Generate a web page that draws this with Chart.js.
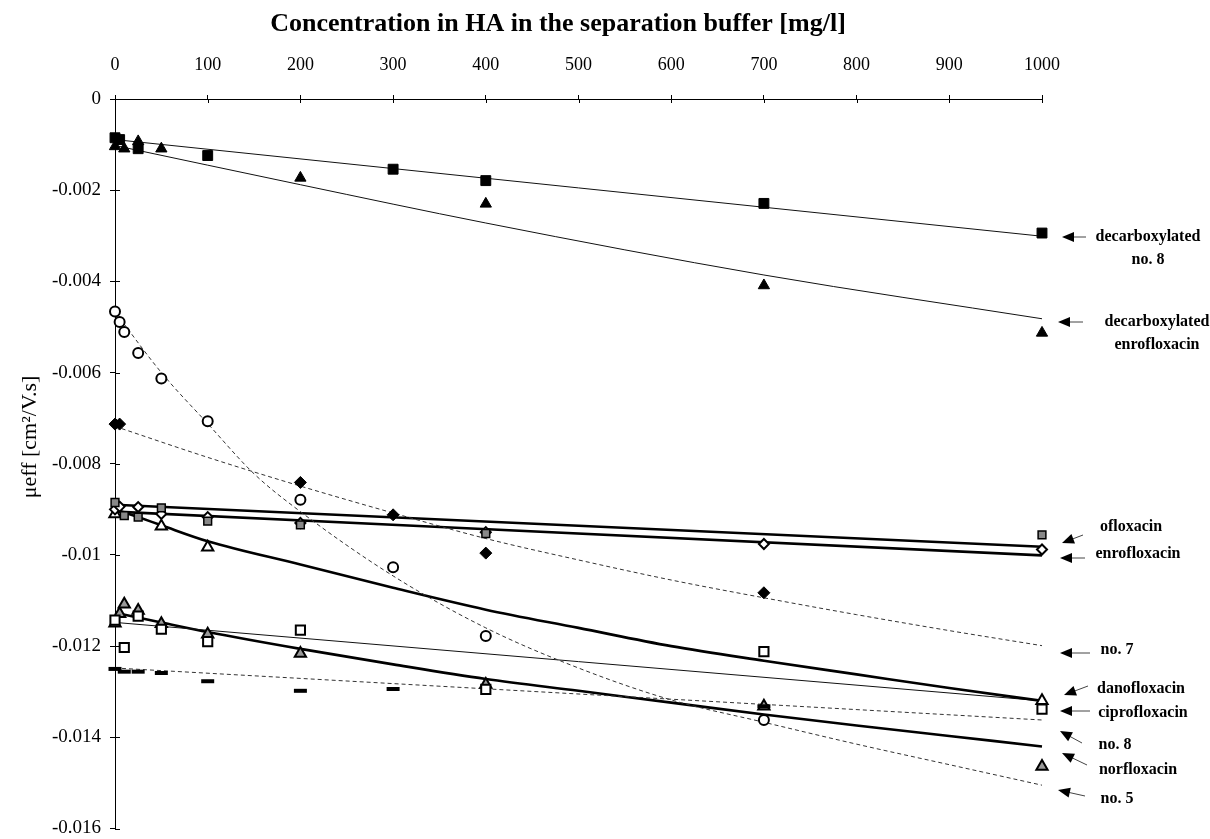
<!DOCTYPE html>
<html>
<head>
<meta charset="utf-8">
<title>Mobility vs HA concentration</title>
<script src="https://cdn.jsdelivr.net/npm/chart.js@4.4.1/dist/chart.umd.min.js"></script>
<style>
  body { margin: 0; background: #fff; }
  #chart { display: block; }
</style>
</head>
<body>
<canvas id="chart" width="1210" height="839"></canvas>
<script>
const xTitle = "Concentration in HA in the separation buffer [mg/l]";
const yTitle = "\u03bceff [cm\u00b2/V.s]";
const xTicks = [0, 100, 200, 300, 400, 500, 600, 700, 800, 900, 1000];
const yTicks = [0, -0.002, -0.004, -0.006, -0.008, -0.01, -0.012, -0.014, -0.016];

// decarboxylated no. 8 (filled squares)
const decNo8X = [0, 5, 25, 100, 300, 400, 700, 1000];
const decNo8Y = [-0.00085, -0.00089, -0.00109, -0.00124, -0.00154, -0.00179, -0.00229, -0.00294];
const decNo8FitX = [0, 1000];
const decNo8FitY = [-0.00089, -0.00301];

// decarboxylated enrofloxacin (filled triangles)
const decEnroX = [0, 10, 25, 50, 200, 400, 700, 1000];
const decEnroY = [-0.00104, -0.00109, -0.00093, -0.00109, -0.00173, -0.0023, -0.00409, -0.00513];
const decEnroFitX = [0, 200, 400, 700, 1000];
const decEnroFitY = [-0.00102, -0.00188, -0.00272, -0.00386, -0.00482];

// no. 5 (open circles)
const no5X = [0, 5, 10, 25, 50, 100, 200, 300, 400, 700];
const no5Y = [-0.00466, -0.00489, -0.00511, -0.00557, -0.00613, -0.00707, -0.00879, -0.01027, -0.01178, -0.01362];
const no5FitX = [0, 50, 100, 150, 200, 300, 400, 500, 600, 700, 800, 900, 1000];
const no5FitY = [-0.00467, -0.006, -0.00712, -0.00822, -0.00905, -0.01046, -0.0116, -0.01248, -0.01318, -0.01367, -0.01415, -0.0146, -0.01505];

// no. 7 (filled diamonds)
const no7X = [0, 5, 200, 300, 400, 700];
const no7Y = [-0.00713, -0.00713, -0.00841, -0.00912, -0.00996, -0.01083];
const no7FitX = [0, 100, 200, 300, 400, 500, 600, 700, 800, 900, 1000];
const no7FitY = [-0.00718, -0.00786, -0.00849, -0.00908, -0.00964, -0.01011, -0.01055, -0.01094, -0.01131, -0.01166, -0.01199];

// ofloxacin (grey squares)
const ofloX = [0, 10, 25, 50, 100, 200, 400, 1000];
const ofloY = [-0.00885, -0.00914, -0.00917, -0.00897, -0.00926, -0.00934, -0.00953, -0.00956];
const ofloFitX = [0, 1000];
const ofloFitY = [-0.0089, -0.00982];

// enrofloxacin (open diamonds)
const enroX = [0, 5, 25, 50, 100, 200, 400, 700, 1000];
const enroY = [-0.009, -0.00894, -0.00895, -0.0091, -0.00917, -0.0093, -0.0095, -0.00976, -0.00988];
const enroFitX = [0, 1000];
const enroFitY = [-0.00905, -0.01001];

// danofloxacin (open triangles)
const danoX = [0, 50, 100, 1000];
const danoY = [-0.0091, -0.00937, -0.00983, -0.0132];
const danoFitX = [0, 25, 50, 100, 200, 300, 400, 500, 600, 700, 800, 900, 1000];
const danoFitY = [-0.009, -0.00917, -0.00935, -0.0097, -0.01021, -0.01072, -0.0112, -0.0116, -0.012, -0.01232, -0.01262, -0.01292, -0.0132];

// ciprofloxacin (open squares)
const ciproX = [0, 10, 25, 50, 100, 200, 400, 700, 1000];
const ciproY = [-0.01143, -0.01203, -0.01134, -0.01163, -0.0119, -0.01165, -0.01295, -0.01212, -0.01338];
const ciproFitX = [0, 1000];
const ciproFitY = [-0.01148, -0.0132];

// no. 8 (dashes)
const no8X = [0, 10, 25, 50, 100, 200, 300, 700];
const no8Y = [-0.0125, -0.01256, -0.01256, -0.01259, -0.01277, -0.01298, -0.01294, -0.01332];
const no8FitX = [0, 1000];
const no8FitY = [-0.01248, -0.01362];

// norfloxacin (grey triangles)
const norX = [0, 5, 10, 25, 50, 100, 200, 400, 700, 1000];
const norY = [-0.0115, -0.01129, -0.01108, -0.01122, -0.01151, -0.01174, -0.01216, -0.01284, -0.01332, -0.01464];
const norFitX = [0, 50, 100, 200, 300, 400, 500, 600, 700, 800, 900, 1000];
const norFitY = [-0.01127, -0.01148, -0.01169, -0.01206, -0.0124, -0.01272, -0.01298, -0.01324, -0.0135, -0.01374, -0.01397, -0.0142];

const sideLabels = [
  ["decarboxylated", "no. 8"],
  ["decarboxylated", "enrofloxacin"],
  ["ofloxacin"],
  ["enrofloxacin"],
  ["no. 7"],
  ["danofloxacin"],
  ["ciprofloxacin"],
  ["no. 8"],
  ["norfloxacin"],
  ["no. 5"]
];

Chart.defaults.font.family = '"Liberation Serif", "Times New Roman", serif';
Chart.defaults.color = "#000";

function pts(xs, ys) {
  return xs.map((x, i) => ({ x: x, y: ys[i] }));
}

function markers(xs, ys, style) {
  return Object.assign({ data: pts(xs, ys), showLine: false, order: 0, clip: false }, style);
}

function fit(xs, ys, style) {
  return Object.assign({
    data: pts(xs, ys), showLine: true, pointRadius: 0, order: 1, clip: false,
    cubicInterpolationMode: "monotone", fill: false
  }, style);
}

const thin = { borderColor: "#111", borderWidth: 1 };
const thick = { borderColor: "#000", borderWidth: 2.6 };
const dashed = { borderColor: "#333", borderWidth: 1, borderDash: [4, 3] };

// positions of the side labels and their arrows, in pixels
const labelPlaces = [
  { x: 1148, y: [237, 260], tail: [1086, 237], tip: [1062, 237] },
  { x: 1157, y: [322, 345], tail: [1083, 322], tip: [1058, 322] },
  { x: 1131, y: [527], tail: [1083, 535], tip: [1062, 543] },
  { x: 1138, y: [554], tail: [1085, 558], tip: [1060, 558] },
  { x: 1117, y: [650], tail: [1090, 653], tip: [1060, 653] },
  { x: 1141, y: [689], tail: [1088, 686], tip: [1064, 695] },
  { x: 1143, y: [713], tail: [1090, 711], tip: [1060, 711] },
  { x: 1115, y: [745], tail: [1082, 743], tip: [1060, 731] },
  { x: 1138, y: [770], tail: [1087, 765], tip: [1062, 753] },
  { x: 1117, y: [799], tail: [1085, 796], tip: [1058, 790] }
];

function arrow(ctx, tail, tip) {
  const a = Math.atan2(tip[1] - tail[1], tip[0] - tail[0]);
  const c = Math.cos(a), s = Math.sin(a);
  ctx.beginPath();
  ctx.moveTo(tail[0], tail[1]);
  ctx.lineTo(tip[0] - c * 8, tip[1] - s * 8);
  ctx.stroke();
  ctx.beginPath();
  ctx.moveTo(tip[0], tip[1]);
  ctx.lineTo(tip[0] - 12 * c + 5 * s, tip[1] - 12 * s - 5 * c);
  ctx.lineTo(tip[0] - 12 * c - 5 * s, tip[1] - 12 * s + 5 * c);
  ctx.closePath();
  ctx.fill();
}

const decorations = {
  id: "decorations",
  afterDraw(chart) {
    const ctx = chart.ctx;
    const area = chart.chartArea;
    const sx = chart.scales.x, sy = chart.scales.y;
    ctx.save();

    // inner half of the crossing tick marks
    ctx.strokeStyle = "#000";
    ctx.lineWidth = 1;
    ctx.beginPath();
    xTicks.forEach(v => {
      const px = Math.round(sx.getPixelForValue(v)) + 0.5;
      ctx.moveTo(px, area.top);
      ctx.lineTo(px, area.top + 4);
    });
    yTicks.forEach(v => {
      const py = Math.round(sy.getPixelForValue(v)) + 0.5;
      ctx.moveTo(area.left, py);
      ctx.lineTo(area.left + 5, py);
    });
    ctx.stroke();

    ctx.fillStyle = "#000";
    ctx.textAlign = "center";
    ctx.textBaseline = "middle";
    ctx.font = 'bold 26px "Liberation Serif"';
    ctx.fillText(xTitle, 558, 24);

    ctx.save();
    ctx.translate(30, 437);
    ctx.rotate(-Math.PI / 2);
    ctx.font = '22px "Liberation Serif"';
    ctx.fillText(yTitle, 0, 0);
    ctx.restore();

    ctx.font = 'bold 16px "Liberation Serif"';
    ctx.strokeStyle = "#444";
    sideLabels.forEach((lines, i) => {
      const p = labelPlaces[i];
      lines.forEach((t, j) => ctx.fillText(t, p.x, p.y[j]));
      arrow(ctx, p.tail, p.tip);
    });
    ctx.restore();
  }
};

new Chart(document.getElementById("chart"), {
  type: "scatter",
  data: {
    datasets: [
      markers(decNo8X, decNo8Y, { pointStyle: "rect", pointRadius: 7, pointBackgroundColor: "#000", pointBorderColor: "#000", pointBorderWidth: 1 }),
      markers(decEnroX, decEnroY, { pointStyle: "triangle", pointRadius: 6.5, pointBackgroundColor: "#000", pointBorderColor: "#000", pointBorderWidth: 1 }),
      markers(no5X, no5Y, { pointStyle: "circle", pointRadius: 5, pointBackgroundColor: "#fff", pointBorderColor: "#000", pointBorderWidth: 2 }),
      markers(no7X, no7Y, { pointStyle: "rectRot", pointRadius: 6, pointBackgroundColor: "#000", pointBorderColor: "#000", pointBorderWidth: 1 }),
      markers(ofloX, ofloY, { pointStyle: "rect", pointRadius: 5.5, pointBackgroundColor: "#888", pointBorderColor: "#000", pointBorderWidth: 1.5 }),
      markers(enroX, enroY, { pointStyle: "rectRot", pointRadius: 5, pointBackgroundColor: "#fff", pointBorderColor: "#000", pointBorderWidth: 2 }),
      markers(danoX, danoY, { pointStyle: "triangle", pointRadius: 6.5, pointBackgroundColor: "#fff", pointBorderColor: "#000", pointBorderWidth: 2 }),
      markers(ciproX, ciproY, { pointStyle: "rect", pointRadius: 6.5, pointBackgroundColor: "#fff", pointBorderColor: "#000", pointBorderWidth: 2 }),
      markers(no8X, no8Y, { pointStyle: "line", pointRadius: 6.5, pointBorderColor: "#000", pointBorderWidth: 4 }),
      markers(norX, norY, { pointStyle: "triangle", pointRadius: 6.5, pointBackgroundColor: "#999", pointBorderColor: "#000", pointBorderWidth: 2 }),

      fit(decNo8FitX, decNo8FitY, thin),
      fit(decEnroFitX, decEnroFitY, thin),
      fit(no5FitX, no5FitY, dashed),
      fit(no7FitX, no7FitY, dashed),
      fit(ofloFitX, ofloFitY, thick),
      fit(enroFitX, enroFitY, thick),
      fit(danoFitX, danoFitY, thick),
      fit(ciproFitX, ciproFitY, thin),
      fit(no8FitX, no8FitY, dashed),
      fit(norFitX, norFitY, thick)
    ]
  },
  options: {
    responsive: false,
    animation: false,
    layout: { padding: { top: 0, left: 0, right: 168, bottom: 7 } },
    plugins: { legend: { display: false }, tooltip: { enabled: false } },
    scales: {
      x: {
        type: "linear",
        position: "top",
        min: 0,
        max: 1000,
        afterBuildTicks: s => { s.ticks = xTicks.map(v => ({ value: v })); },
        afterFit: s => { s.height = 99; s.paddingLeft = 0; s.paddingRight = 0; },
        grid: { drawOnChartArea: false, tickLength: 4, color: "#000" },
        border: { color: "#000", width: 1 },
        ticks: { font: { size: 18 }, padding: 19, maxRotation: 0, callback: v => String(v) }
      },
      y: {
        type: "linear",
        min: -0.016,
        max: 0,
        afterBuildTicks: s => { s.ticks = yTicks.map(v => ({ value: v })); },
        afterFit: s => { s.width = 115; s.paddingTop = 0; s.paddingBottom = 0; },
        grid: { drawOnChartArea: false, tickLength: 5, color: "#000" },
        border: { color: "#000", width: 1 },
        ticks: {
          font: { size: 19 },
          padding: 9,
          callback: v => String(parseFloat(v.toFixed(3)))
        }
      }
    }
  },
  plugins: [decorations]
});
</script>
</body>
</html>
